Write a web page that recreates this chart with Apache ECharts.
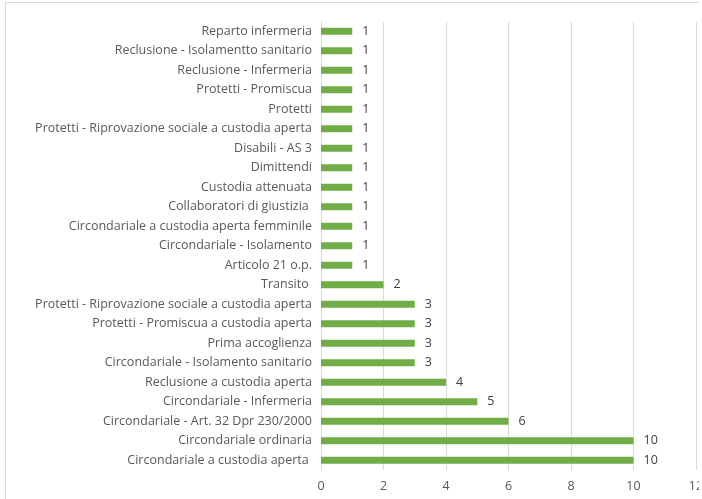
<!DOCTYPE html>
<html><head><meta charset="utf-8">
<script src="https://cdn.jsdelivr.net/npm/echarts@6/dist/echarts.min.js"></script>
<style>
html,body{margin:0;padding:0;background:#fff;overflow:hidden;}
#clip{position:absolute;left:0;top:0;width:699px;height:499px;overflow:hidden;}
#frame{position:absolute;left:5px;top:2px;width:760px;height:560px;border:1px solid #d9d9d9;box-sizing:border-box;}
#chart{position:absolute;left:0;top:0;width:699px;height:499px;}
</style></head>
<body>
<div id="clip">
<div id="frame"></div>
<div id="chart"></div>
</div>
<script>
var categories = [
  "Circondariale a custodia aperta ",
  "Circondariale ordinaria",
  "Circondariale - Art. 32 Dpr 230/2000",
  "Circondariale - Infermeria",
  "Reclusione a custodia aperta",
  "Circondariale - Isolamento sanitario",
  "Prima accoglienza",
  "Protetti - Promiscua a custodia aperta",
  "Protetti - Riprovazione sociale a custodia aperta",
  "Transito ",
  "Articolo 21 o.p.",
  "Circondariale - Isolamento",
  "Circondariale a custodia aperta femminile",
  "Collaboratori di giustizia ",
  "Custodia attenuata",
  "Dimittendi",
  "Disabili - AS 3",
  "Protetti - Riprovazione sociale a custodia aperta\u200b",
  "Protetti",
  "Protetti - Promiscua",
  "Reclusione - Infermeria",
  "Reclusione - Isolamentto sanitario",
  "Reparto infermeria"
];
var values = [10,10,6,5,4,3,3,3,3,2,1,1,1,1,1,1,1,1,1,1,1,1,1];
var xTicks = {min:0, max:12, interval:2};

var chart = echarts.init(document.getElementById('chart'), null, {renderer:'canvas'});
var font = '"Open Sans", sans-serif';
chart.setOption({
  animation:false,
  grid:{left:321, right:3, top:21.5, bottom:29, containLabel:false, outerBoundsMode:'none'},
  xAxis:{type:'value', min:xTicks.min, max:xTicks.max, interval:xTicks.interval,
    axisLine:{show:false}, axisTick:{show:false},
    splitLine:{show:true, lineStyle:{color:'#d9d9d9', width:1}},
    axisLabel:{color:'#595959', fontSize:12.5, fontFamily:font, margin:10}},
  yAxis:{type:'category', data:categories,
    axisLine:{show:true, lineStyle:{color:'#d9d9d9', width:1}},
    axisTick:{show:false},
    axisLabel:{color:'#595959', fontSize:12.5, fontFamily:font, margin:9, interval:0}},
  series:[{type:'bar', data:values, barWidth:7,
    itemStyle:{color:'#70AD47'},
    label:{show:true, position:'right', distance:10, color:'#404040', fontSize:12.5, fontFamily:font}}]
});
</script>
</body></html>
